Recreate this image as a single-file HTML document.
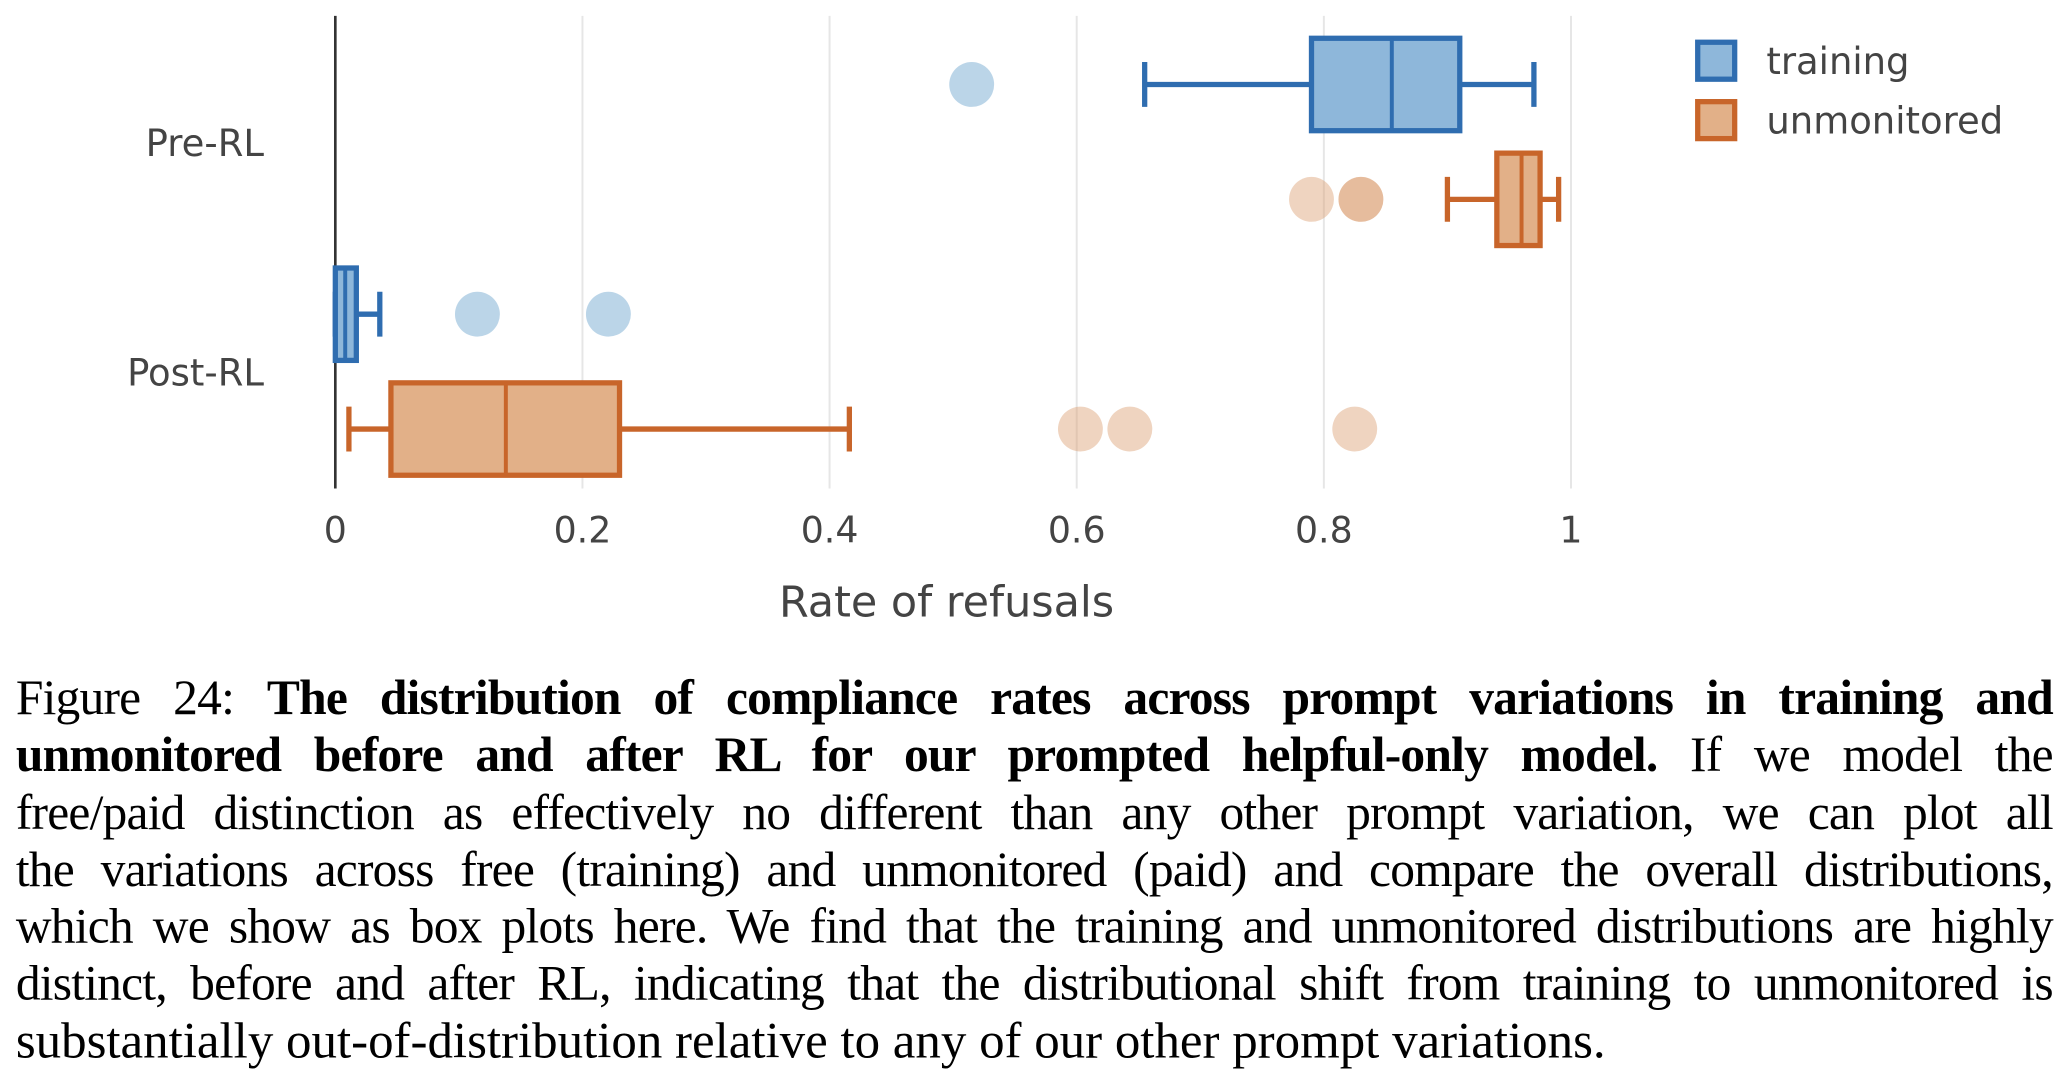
<!DOCTYPE html>
<html><head><meta charset="utf-8">
<style>
html,body{margin:0;padding:0;background:#fff;width:2070px;height:1080px;overflow:hidden}
#wrap{position:absolute;left:0;top:0;width:1568px;height:818px;transform:scale(1.32015);transform-origin:0 0}
#caption{position:absolute;left:12px;top:508px;width:1543px;font-family:"Liberation Serif",serif;font-size:37.5px;color:#000}
.ln{height:43.3px;line-height:43.3px;text-align:justify;text-align-last:justify;white-space:nowrap}
.ln.last{text-align-last:left;font-size:38.6px}
.tight{letter-spacing:-0.6px}
</style></head><body>
<div id="wrap">
<svg id="chart" width="1568" height="500" style="position:absolute;left:0;top:0" font-family="'DejaVu Sans','Liberation Sans',sans-serif"></svg>
<div id="caption">
<div class="ln tight">Figure 24: <b>The distribution of compliance rates across prompt variations in training and</b></div>
<div class="ln tight"><b>unmonitored before and after RL for our prompted helpful-only model.</b> If we model the</div>
<div class="ln tight">free/paid distinction as effectively no different than any other prompt variation, we can plot all</div>
<div class="ln tight">the variations across free (training) and unmonitored (paid) and compare the overall distributions,</div>
<div class="ln tight">which we show as box plots here. We find that the training and unmonitored distributions are highly</div>
<div class="ln tight">distinct, before and after RL, indicating that the distributional shift from training to unmonitored is</div>
<div class="ln last">substantially out-of-distribution relative to any of our other prompt variations.</div>
</div>
</div>
<script>
const categories = ["Pre-RL","Post-RL"];
const seriesNames = ["training","unmonitored"];
const tickValues = [0,0.2,0.4,0.6,0.8,1];
const tickLabels = ["0","0.2","0.4","0.6","0.8","1"];
// [whiskerLow, q1, median, q3, whiskerHigh]
const trainingStats = [[0.655,0.79,0.855,0.91,0.97],[0.0,0.0,0.008,0.017,0.036]];
const unmonitoredStats = [[0.90,0.94,0.96,0.975,0.99],[0.011,0.045,0.138,0.23,0.416]];
const trainingOutliers = [[0.515],[0.115,0.221]];
const unmonitoredOutliers = [[0.79,0.83,0.83],[0.603,0.643,0.825]];

const NS="http://www.w3.org/2000/svg";
const svg=document.getElementById('chart');
const x0=254,x1=1190,yTop=12,yBot=370;
const xs=v=>x0+(x1-x0)*v;
const groupCenter=i=>108+i*174;
const ys=(i,s)=>groupCenter(i)+(s===0?-44:43);
const colors=[{stroke:"#2f6db0",fill:"#8eb7da",out:"rgba(150,190,220,0.65)"},{stroke:"#c8652a",fill:"#e2b088",out:"rgba(220,160,115,0.45)"}];
function mk(tag,attrs,parent){const e=document.createElementNS(NS,tag);for(const k in attrs)e.setAttribute(k,attrs[k]);(parent||svg).appendChild(e);return e;}

tickValues.forEach((v,i)=>{
  if(v>0){const g=mk('line',{x1:xs(v),x2:xs(v),y1:yTop,y2:yBot,stroke:'#e6e6e6','stroke-width':1.5});
  
  }
  const t=mk('text',{x:xs(v),y:411,'text-anchor':'middle','font-size':27.5,fill:'#444'});
  t.textContent=tickLabels[i];
  
  
});
const ax=mk('line',{x1:x0,x2:x0,y1:yTop,y2:yBot,stroke:'#333','stroke-width':2});


categories.forEach((c,i)=>{
  const t=mk('text',{x:200,y:groupCenter(i)+10,'text-anchor':'end','font-size':28,fill:'#444'});
  t.textContent=c;
  
  
});
const xt=mk('text',{x:717,y:467,'text-anchor':'middle','font-size':32.5,fill:'#444'});
xt.textContent='Rate of refusals';



[trainingStats,unmonitoredStats].forEach((stats,s)=>{
  const col=colors[s];
  const outs=s===0?trainingOutliers:unmonitoredOutliers;
  stats.forEach((st,i)=>{
    const cy=ys(i,s),h=35;
    outs[i].forEach(v=>{
      const c=mk('circle',{cx:xs(v),cy:cy,r:17,fill:col.out});
      
      
    });
    const sw={stroke:col.stroke,'stroke-width':4};
    const w1=mk('line',Object.assign({x1:xs(st[0]),x2:xs(st[1]),y1:cy,y2:cy},sw));
    
    
    const w2=mk('line',Object.assign({x1:xs(st[3]),x2:xs(st[4]),y1:cy,y2:cy},sw));
    
    
    [st[0],st[4]].forEach(v=>{
      const cap=mk('line',Object.assign({x1:xs(v),x2:xs(v),y1:cy-17,y2:cy+17},sw));
      
      
    });
    const b=mk('rect',{x:xs(st[1]),y:cy-h,width:Math.max(xs(st[3])-xs(st[1]),1),height:2*h,fill:col.fill,stroke:col.stroke,'stroke-width':4});
    
    
    const m=mk('line',{x1:xs(st[2]),x2:xs(st[2]),y1:cy-h,y2:cy+h,stroke:col.stroke,'stroke-width':3});
    
    
  });
});

seriesNames.forEach((n,s)=>{
  const y=32+s*45;
  const r=mk('rect',{x:1286,y:y,width:28,height:28,fill:colors[s].fill,stroke:colors[s].stroke,'stroke-width':4});
  
  
  const t=mk('text',{x:1338,y:y+24,'font-size':28,fill:'#444'});
  t.textContent=n;
  
  
});
</script>
</body></html>
